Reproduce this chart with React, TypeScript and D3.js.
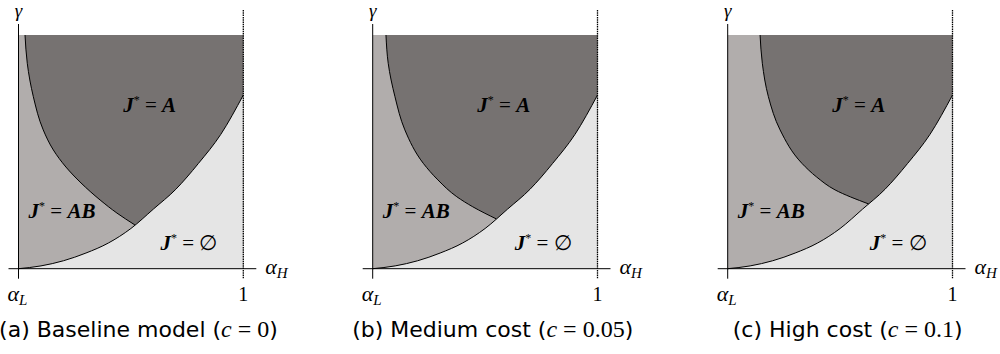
import React from "react";
import * as d3 from "d3";

// Regime boundaries in the (alpha_H, gamma) plane for three cost levels.
const panelIds = ["a", "b", "c"];
const panelTitles = ["Baseline model", "Medium cost", "High cost"];
const costLabels = ["0", "0.05", "0.1"];

// Lower boundary (J* = ∅ below it), shared by every cost level.
const lowerAlpha = [0, 0.1, 0.2, 0.3, 0.4, 0.5, 0.6, 0.7, 0.8, 0.9, 1.0];
const lowerGamma = [0, 0.012, 0.034, 0.067, 0.11, 0.172, 0.255, 0.34, 0.45, 0.575, 0.743];

// Upper boundary between J* = A and J* = AB, from gamma = 1 down to the meeting point.
const upperAlphaA = [0.029, 0.039, 0.066, 0.11, 0.155, 0.211, 0.278, 0.363, 0.438, 0.518];
const upperGammaA = [1, 0.879, 0.736, 0.594, 0.508, 0.435, 0.367, 0.294, 0.238, 0.187];
const upperAlphaB = [0.059, 0.069, 0.099, 0.143, 0.225, 0.29, 0.374, 0.445, 0.55];
const upperGammaB = [1, 0.879, 0.736, 0.594, 0.451, 0.38, 0.308, 0.265, 0.213];
const upperAlphaC = [0.144, 0.154, 0.181, 0.233, 0.33, 0.396, 0.478, 0.627];
const upperGammaC = [1, 0.879, 0.736, 0.594, 0.451, 0.392, 0.337, 0.277];

const upperAlphas = [upperAlphaA, upperAlphaB, upperAlphaC];
const upperGammas = [upperGammaA, upperGammaB, upperGammaC];

// Region label anchors (alpha_H, gamma)
const labelA = [0.583, 0.67];
const labelAB = [0.045, 0.216];
const labelNone = [0.632, 0.08];

const panelLeft = [18.5, 372.7, 727.7];
const plotW = 224.8;
const plotTop = 35;
const plotBottom = 268.7;

const DARK = "#767271";
const MID = "#b1adac";
const LIGHT = "#e5e5e5";

const serif = "'Liberation Serif', 'DejaVu Serif', serif";
const sans = "'DejaVu Sans', 'Open Sans', sans-serif";

type P = [number, number];

function Panel({ idx }: { idx: number }) {
  const x0 = panelLeft[idx];
  const x = d3.scaleLinear().domain([0, 1]).range([x0, x0 + plotW]);
  const y = d3.scaleLinear().domain([0, 1]).range([plotBottom, plotTop]);

  const lower: P[] = lowerAlpha.map((a, i) => [a, lowerGamma[i]]);
  const upper: P[] = upperAlphas[idx].map((a, i) => [a, upperGammas[idx][i]]);

  const lowerLine = d3
    .line<P>()
    .x((d) => x(d[0]))
    .y((d) => y(d[1]))
    .curve(d3.curveMonotoneX);
  const upperLine = d3
    .line<P>()
    .x((d) => x(d[0]))
    .y((d) => y(d[1]))
    .curve(d3.curveMonotoneY);

  const last = upper[upper.length - 1];

  // light region: below the lower boundary
  const lightPath = lowerLine(lower)! + `L${x(1)},${y(0)}L${x(0)},${y(0)}Z`;
  // dark region: right of the upper boundary (the light layer covers what lies below the lower one)
  const darkPath = upperLine(upper)! + `L${x(1)},${y(last[1])}L${x(1)},${y(1)}Z`;

  const ax = x(0);
  const right = x(1);

  return (
    <g>
      <rect x={x(0)} y={y(1)} width={x(1) - x(0)} height={y(0) - y(1)} fill={MID} />
      <path d={darkPath} fill={DARK} />
      <path d={lightPath} fill={LIGHT} />
      <path d={lowerLine(lower)!} fill="none" stroke="#000" strokeWidth={1} />
      <path d={upperLine(upper)!} fill="none" stroke="#000" strokeWidth={1} />

      {/* axes */}
      <line x1={ax} x2={ax} y1={plotTop - 11} y2={plotBottom + 10} stroke="#000" strokeWidth={1} />
      <line x1={ax - 10} x2={right + 13} y1={plotBottom} y2={plotBottom} stroke="#000" strokeWidth={1} />
      <line
        x1={right}
        x2={right}
        y1={plotTop - 25}
        y2={plotBottom + 10}
        stroke="#000"
        strokeWidth={1.3}
        strokeDasharray="1.5,0.8"
      />

      {/* axis labels */}
      <text x={ax} y={17} fontFamily={serif} fontStyle="italic" fontSize={19} textAnchor="middle">
        γ
      </text>
      <text x={right + 22} y={274} fontFamily={serif} fontStyle="italic" fontSize={22}>
        α
        <tspan fontSize={15} dy={4}>H</tspan>
      </text>
      <text x={ax - 11} y={301} fontFamily={serif} fontStyle="italic" fontSize={22}>
        α
        <tspan fontSize={15} dy={4}>L</tspan>
      </text>
      <text x={right} y={301} fontFamily={serif} fontSize={20} textAnchor="middle">
        1
      </text>

      {/* region labels */}
      <text x={x(labelA[0])} y={y(labelA[1])} fontFamily={serif} fontSize={21} textAnchor="middle">
        <tspan fontWeight="bold" fontStyle="italic">J</tspan>
        <tspan fontSize={12} dy={-8}>*</tspan>
        <tspan dy={8}> = </tspan>
        <tspan fontWeight="bold" fontStyle="italic">A</tspan>
      </text>
      <text x={x(labelAB[0])} y={y(labelAB[1])} fontFamily={serif} fontSize={21}>
        <tspan fontWeight="bold" fontStyle="italic">J</tspan>
        <tspan fontSize={12} dy={-8}>*</tspan>
        <tspan dy={8}> = </tspan>
        <tspan fontWeight="bold" fontStyle="italic">AB</tspan>
      </text>
      <text x={x(labelNone[0])} y={y(labelNone[1])} fontFamily={serif} fontSize={21}>
        <tspan fontWeight="bold" fontStyle="italic">J</tspan>
        <tspan fontSize={12} dy={-8}>*</tspan>
        <tspan dy={8}> = ∅</tspan>
      </text>

      {/* caption */}
      <text x={x0 + 120} y={337} fontFamily={sans} fontSize={22} textAnchor="middle">
        ({panelIds[idx]}) {panelTitles[idx]} (
        <tspan fontFamily={serif} fontStyle="italic" fontSize={24}>c</tspan>
        <tspan fontFamily={serif} fontSize={24}> = {costLabels[idx]}</tspan>)
      </text>
    </g>
  );
}

export default function App() {
  return (
    <svg
      width={1000}
      height={354}
      viewBox="0 0 1000 354"
      style={{ position: "absolute", left: 0, top: 0, background: "#fff" }}
    >
      {panelIds.map((_, i) => (
        <Panel key={i} idx={i} />
      ))}
    </svg>
  );
}
